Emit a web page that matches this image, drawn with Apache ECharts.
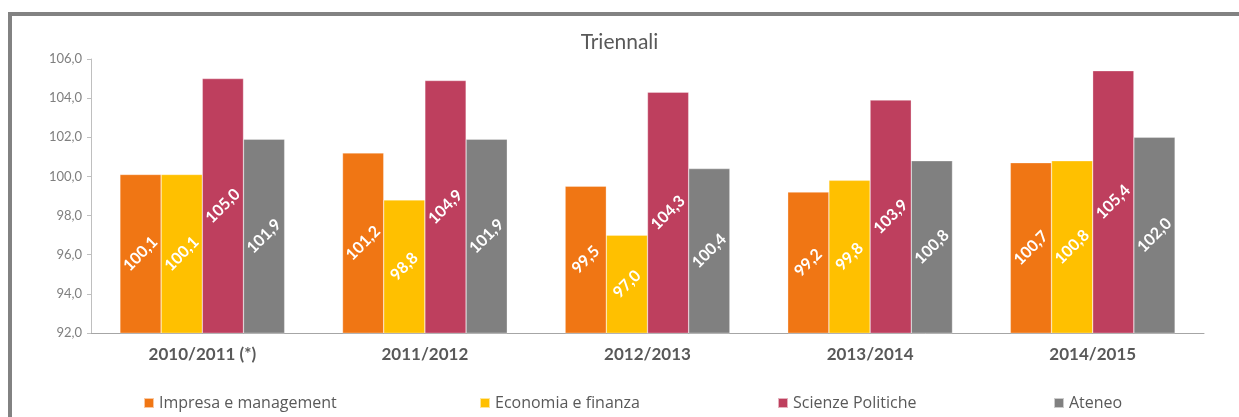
<!DOCTYPE html>
<html><head><meta charset="utf-8">
<script src="https://cdn.jsdelivr.net/npm/echarts@6/dist/echarts.min.js"></script>
<style>
html,body{margin:0;padding:0;background:#fff;overflow:hidden;}
#frame{position:absolute;left:8px;top:12px;width:1300px;height:500px;border:4px solid #828282;box-sizing:border-box;}
#chart{position:absolute;left:0;top:0;width:1239px;height:417px;}
</style></head>
<body>
<div id="frame"></div>
<div id="chart"></div>
<script>
const title = 'Triennali';
const categories = ['2010/2011 (*)', '2011/2012', '2012/2013', '2013/2014', '2014/2015'];
const seriesNames = ['Impresa e management', 'Economia e finanza', 'Scienze Politiche', 'Ateneo'];
const impresa = [100.1, 101.2, 99.5, 99.2, 100.7];
const economia = [100.1, 98.8, 97.0, 99.8, 100.8];
const scienze = [105.0, 104.9, 104.3, 103.9, 105.4];
const ateneo = [101.9, 101.9, 100.4, 100.8, 102.0];
const colors = ['#F07614', '#FFC000', '#BE3F5E', '#808080'];
const legendLeft = [138, 474, 772, 1048];

const fmt = v => v.toFixed(1).replace('.', ',');
const data = [impresa, economia, scienze, ateneo];
const chart = echarts.init(document.getElementById('chart'));
chart.setOption({
  animation: false,
  title: { text: title, left: 'center', top: 27, textStyle: { fontFamily: 'Lato', fontSize: 21, fontWeight: 'normal', color: '#595959' } },
  legend: seriesNames.map((n, i) => ({
    data: [n], left: legendLeft[i], top: 390, itemWidth: 10, itemHeight: 10, icon: 'rect',
    textStyle: { fontFamily: 'Open Sans', fontSize: 16, color: '#595959' }
  })),
  grid: { left: 91, right: 35, top: 59, bottom: 84 },
  xAxis: {
    type: 'category', data: categories,
    axisLine: { lineStyle: { color: '#a6a6a6', width: 1 } },
    axisTick: { length: 8, interval: 0, lineStyle: { color: '#a6a6a6' } },
    axisLabel: { fontFamily: 'Lato', fontSize: 17, fontWeight: 'bold', color: '#595959', margin: 13 }
  },
  yAxis: {
    type: 'value', min: 92, max: 106, interval: 2,
    splitLine: { show: false },
    axisLine: { show: true, lineStyle: { color: '#bfbfbf' } },
    axisTick: { show: true, length: 4, lineStyle: { color: '#bfbfbf' } },
    axisLabel: { fontFamily: 'Lato', fontSize: 13, color: '#7f7f7f', margin: 9, formatter: fmt }
  },
  series: data.map((d, i) => ({
    name: seriesNames[i], type: 'bar', data: d,
    barGap: '0%', barCategoryGap: '26%',
    itemStyle: { color: colors[i], borderColor: 'rgba(255,255,255,0.6)', borderWidth: 0.5 },
    label: {
      show: true, position: 'inside', rotate: 45, color: '#fff',
      fontFamily: 'Lato', fontSize: 16, fontWeight: 'bold',
      formatter: p => fmt(p.value)
    }
  }))
});
</script>
</body></html>
